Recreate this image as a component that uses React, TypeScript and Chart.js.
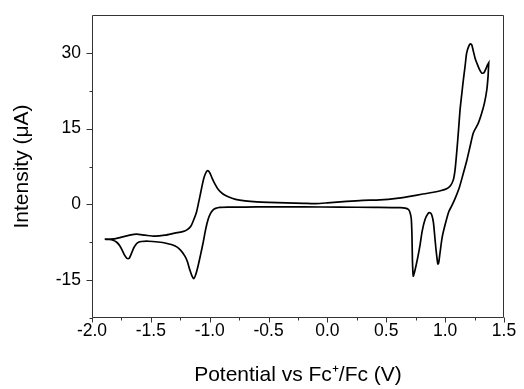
import React, { useEffect, useRef } from 'react';
import { Chart, registerables } from 'chart.js';
Chart.register(...registerables);

// Anodic sweep (upper branch), from the left vertex to the right vertex
const anodicPotential = [
  -1.892, -1.82, -1.75, -1.68, -1.622, -1.55, -1.467, -1.38, -1.297, -1.23, -1.197, -1.17, -1.155, -1.135,
  -1.112, -1.094, -1.076, -1.06, -1.047, -1.03, -1.016, -1.0, -0.98, -0.955, -0.929, -0.89, -0.843, -0.78,
  -0.7, -0.6, -0.5, -0.35, -0.2, -0.1, 0.0, 0.163, 0.3, 0.446, 0.588, 0.7, 0.8, 0.9, 0.96, 1.013, 1.045,
  1.07, 1.085, 1.099, 1.113, 1.127, 1.141, 1.155, 1.17, 1.183, 1.2, 1.215, 1.226, 1.24, 1.255, 1.269, 1.29,
  1.311, 1.33, 1.345, 1.36, 1.37,
];
const anodicCurrent = [
  -6.9, -6.85, -6.5, -6.1, -5.9, -6.1, -6.3, -6.1, -5.7, -5.4, -5.1, -4.6, -4.1, -3.0,
  -1.5, 0.4, 2.4, 4.2, 5.4, 6.4, 6.7, 6.3, 5.2, 4.0, 3.0, 2.1, 1.5, 1.0,
  0.7, 0.5, 0.4, 0.3, 0.2, 0.15, 0.3, 0.6, 0.8, 0.9, 1.2, 1.6, 2.0, 2.4, 2.7, 3.1, 3.7,
  4.9, 7.0, 10.5, 14.5, 18.8, 21.8, 24.7, 27.5, 30.0, 31.3, 31.8, 31.6, 30.3, 28.9, 28.0, 26.8,
  26.0, 26.1, 26.8, 27.6, 28.0,
];

// Cathodic sweep (lower branch), from the right vertex back to the left vertex
const cathodicPotential = [
  1.37, 1.365, 1.354, 1.335, 1.311, 1.28, 1.24, 1.212, 1.185, 1.155, 1.12, 1.085, 1.056, 1.03, 1.0,
  0.975, 0.957, 0.945, 0.938, 0.925, 0.914, 0.9, 0.885, 0.871, 0.855, 0.829, 0.805, 0.787, 0.77, 0.753,
  0.738, 0.729, 0.722, 0.718, 0.712, 0.7, 0.687, 0.66, 0.62, 0.4, 0.1, -0.2, -0.5, -0.7, -0.85, -0.914,
  -0.95, -0.971, -0.993, -1.014, -1.035, -1.056, -1.078, -1.099, -1.12, -1.135, -1.15, -1.17, -1.19,
  -1.212, -1.25, -1.297, -1.37, -1.439, -1.52, -1.58, -1.605, -1.622, -1.64, -1.651, -1.668, -1.685,
  -1.703, -1.722, -1.743, -1.764, -1.79, -1.821, -1.855, -1.892,
];
const cathodicCurrent = [
  28.0, 25.5, 22.7, 20.2, 18.1, 16.0, 14.2, 11.5, 8.8, 6.2, 3.3, 1.2, -0.3, -1.5, -4.0,
  -6.5, -9.5, -11.6, -11.8, -9.5, -6.9, -3.5, -2.0, -1.65, -1.8, -3.0, -5.3, -8.0, -10.2, -12.1,
  -13.6, -14.2, -11.0, -6.0, -2.8, -1.5, -1.0, -0.75, -0.66, -0.6, -0.55, -0.5, -0.5, -0.53, -0.53, -0.6,
  -0.8, -1.1, -1.8, -3.0, -5.0, -7.6, -10.0, -12.2, -14.0, -14.7, -14.2, -12.9, -11.3,
  -10.2, -9.0, -8.2, -7.7, -7.45, -7.3, -7.35, -7.5, -7.8, -8.4, -8.9, -9.9, -10.7,
  -10.7, -10.1, -9.1, -8.2, -7.5, -7.1, -6.95, -6.9,
];

const xMajorTicks = [-2.0, -1.5, -1.0, -0.5, 0.0, 0.5, 1.0, 1.5];
const xMinorTicks = [-1.75, -1.25, -0.75, -0.25, 0.25, 0.75, 1.25];
const yMajorTicks = [-15, 0, 15, 30];
const yMinorTicks = [-22.5, -7.5, 7.5, 22.5];

const xTitle = 'Potential vs Fc\u207A/Fc (V)';
const yTitle = 'Intensity (\u03BCA)';

const FONT = "'Liberation Sans', Arial, sans-serif";

const frameAndTicks = {
  id: 'frameAndTicks',
  afterDraw(chart: any) {
    const { ctx, chartArea: a, scales } = chart;
    const L = Math.round(a.left) + 0.5;
    const R = Math.round(a.right) - 0.5;
    const T = Math.round(a.top) + 0.5;
    const B = Math.round(a.bottom) - 0.5;
    ctx.save();
    ctx.strokeStyle = '#333';
    ctx.lineWidth = 1;
    ctx.beginPath();
    ctx.rect(L, T, R - L, B - T);
    ctx.stroke();
    ctx.beginPath();
    const xt = (v: number, len: number) => {
      const p = Math.round(scales.x.getPixelForValue(v)) + 0.5;
      ctx.moveTo(p, B);
      ctx.lineTo(p, B + len);
    };
    const yt = (v: number, len: number) => {
      const p = Math.round(scales.y.getPixelForValue(v)) + 0.5;
      ctx.moveTo(L, p);
      ctx.lineTo(L - len, p);
    };
    xMajorTicks.forEach((v) => xt(v, 5));
    xMinorTicks.forEach((v) => xt(v, 3));
    yMajorTicks.forEach((v) => yt(v, 6));
    yMinorTicks.forEach((v) => yt(v, 3));
    ctx.stroke();
    ctx.restore();
  },
};

export default function App() {
  const ref = useRef<HTMLCanvasElement | null>(null);
  useEffect(() => {
    if (!ref.current) return;
    const points = [
      ...anodicPotential.map((x, i) => ({ x, y: anodicCurrent[i] })),
      ...cathodicPotential.map((x, i) => ({ x, y: cathodicCurrent[i] })),
    ];
    const chart = new Chart(ref.current, {
      type: 'scatter',
      data: {
        datasets: [
          {
            data: points,
            showLine: true,
            borderColor: '#000',
            borderWidth: 1.7,
            pointRadius: 0,
            tension: 0.25,
            fill: false,
          },
        ],
      },
      options: {
        animation: false,
        responsive: false,
        layout: { padding: { top: 15, right: 20, left: 0, bottom: 0 } },
        plugins: { legend: { display: false }, tooltip: { enabled: false } },
        scales: {
          x: {
            type: 'linear',
            min: -2,
            max: 1.5,
            afterFit: (s: any) => {
              s.height = 71;
              s.paddingLeft = 0;
              s.paddingRight = 0;
              s.paddingTop = 0;
              s.paddingBottom = 0;
            },
            afterBuildTicks: (s: any) => { s.ticks = xMajorTicks.map((v) => ({ value: v })); },
            grid: { display: false, drawTicks: false },
            border: { display: false },
            ticks: {
              color: '#000',
              padding: 3,
              font: { family: FONT, size: 17.5 },
              callback: (v: any) => Number(v).toFixed(1),
            },
            title: {
              display: true,
              text: xTitle,
              color: '#000',
              font: { family: FONT, size: 21 },
              padding: { top: 0, bottom: 1 },
            },
          },
          y: {
            type: 'linear',
            min: -22.5,
            max: 37.5,
            afterFit: (s: any) => {
              s.width = 92;
              s.paddingLeft = 0;
              s.paddingRight = 0;
              s.paddingTop = 0;
              s.paddingBottom = 0;
            },
            afterBuildTicks: (s: any) => { s.ticks = yMajorTicks.map((v) => ({ value: v })); },
            grid: { display: false, drawTicks: false },
            border: { display: false },
            ticks: {
              color: '#000',
              padding: 11,
              font: { family: FONT, size: 17.5 },
              callback: (v: any) => String(v),
            },
            title: {
              display: true,
              text: yTitle,
              color: '#000',
              font: { family: FONT, size: 21 },
              padding: { top: 10, bottom: 0 },
            },
          },
        },
      },
      plugins: [frameAndTicks],
    } as any);
    return () => chart.destroy();
  }, []);
  return (
    <div style={{ position: 'fixed', left: 0, top: 0, width: 524, height: 389, background: '#fff' }}>
      <canvas ref={ref} width={524} height={389} />
    </div>
  );
}
